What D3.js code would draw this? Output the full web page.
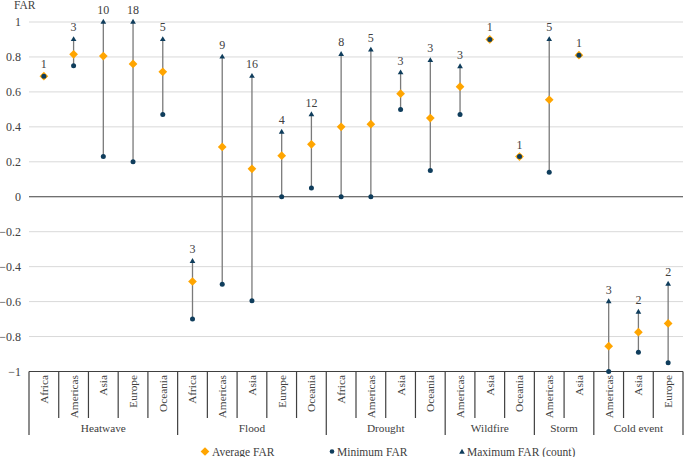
<!DOCTYPE html>
<html><head><meta charset="utf-8">
<script src="https://cdn.jsdelivr.net/npm/d3@7/dist/d3.min.js"></script>
<style>body{margin:0;background:#fff} .chart text{font-family:'Liberation Serif','Times New Roman',serif}</style>
</head><body>
<svg id="c" class="chart" width="685" height="457"></svg>
<script>
const groups = ["Heatwave","Heatwave","Heatwave","Heatwave","Heatwave",
  "Flood","Flood","Flood","Flood","Flood",
  "Drought","Drought","Drought","Drought",
  "Wildfire","Wildfire","Wildfire",
  "Storm","Storm",
  "Cold event","Cold event","Cold event"];
const regions = ["Africa","Americas","Asia","Europe","Oceania",
  "Africa","Americas","Asia","Europe","Oceania",
  "Africa","Americas","Asia","Oceania",
  "Americas","Asia","Oceania",
  "Americas","Asia",
  "Americas","Asia","Europe"];
const avgFAR = [0.69,0.815,0.805,0.76,0.715, -0.485,0.285,0.16,0.235,0.30, 0.40,0.415,0.59,0.45, 0.63,0.90,0.23, 0.555,0.81, -0.855,-0.775,-0.725];
const minFAR = [0.69,0.75,0.23,0.20,0.47, -0.70,-0.50,-0.595,0.00,0.05, 0.00,0.00,0.50,0.15, 0.47,0.90,0.23, 0.14,0.81, -1.00,-0.89,-0.95];
const maxFAR = [0.69,0.90,1.00,1.00,0.90, -0.37,0.80,0.69,0.37,0.47, 0.815,0.84,0.71,0.78, 0.745,0.90,0.23, 0.90,0.81, -0.60,-0.66,-0.50];
const counts = [1,3,10,18,5, 3,9,16,4,12, 8,5,3,3, 3,1,1, 5,1, 3,2,2];
const yTicks = [1,0.8,0.6,0.4,0.2,0,-0.2,-0.4,-0.6,-0.8,-1];
const legendLabels = ["Average FAR","Minimum FAR","Maximum FAR (count)"];

const orange = "#ffa500", navy = "#0f3d5c", lineC = "#7a7a7a", txt = "#404040";
const svg = d3.select("#c");
const keys = groups.map((g,i)=>i);
const x = d3.scaleBand().domain(keys).range([29,683]);
const y = d3.scaleLinear().domain([-1,1]).range([371.5,22]);
const cx = i => x(i) + x.bandwidth()/2;
const T = sel => sel.attr("fill",txt);

// gridlines
svg.append("g").selectAll("line").data(yTicks.filter(t=>t!==0 && t!==-1)).join("line")
  .attr("x1",29).attr("x2",683).attr("y1",d=>y(d)).attr("y2",d=>y(d))
  .attr("stroke","#d9d9d9").attr("stroke-width",1);
// y tick labels
svg.append("g").selectAll("text").data(yTicks).join("text")
  .attr("x",21).attr("y",d=>y(d)).attr("dy","0.35em").attr("text-anchor","end")
  .attr("font-size",12).call(T).text(d=>d3.format("")(d));
svg.append("text").attr("x",14).attr("y",9).attr("font-size",11.5).call(T).text("FAR");

// zero line and bottom axis line
svg.append("line").attr("x1",29).attr("x2",683).attr("y1",y(0)).attr("y2",y(0)).attr("stroke","#404040").attr("stroke-width",1.2);
svg.append("line").attr("x1",29).attr("x2",683).attr("y1",y(-1)).attr("y2",y(-1)).attr("stroke","#404040").attr("stroke-width",1.2);

// category box lines
const bounds = d3.range(keys.length+1);
const isGroupB = b => b===0 || b===keys.length || groups[b]!==groups[b-1];
const bx = b => b<keys.length ? x(b) : x(keys.length-1)+x.bandwidth();
svg.append("g").selectAll("line").data(bounds).join("line")
  .attr("x1",bx).attr("x2",bx)
  .attr("y1",y(-1)).attr("y2",b=>isGroupB(b)?435:418)
  .attr("stroke","#404040").attr("stroke-width",1.2);
// region labels
svg.append("g").selectAll("text").data(keys).join("text")
  .attr("transform",i=>`translate(${cx(i)},375) rotate(-90)`)
  .attr("dy","0.35em").attr("text-anchor","end").attr("font-size",11.3).call(T)
  .text(i=>regions[i]);
// group labels
const groupNames = [...new Set(groups)];
svg.append("g").selectAll("text").data(groupNames).join("text")
  .attr("x",g=>{const idx=keys.filter(i=>groups[i]===g);return (x(idx[0])+x(idx[idx.length-1])+x.bandwidth())/2;})
  .attr("y",432).attr("text-anchor","middle").attr("font-size",11.3).call(T).text(g=>g);

// high-low lines
svg.append("g").selectAll("line").data(keys).join("line")
  .attr("x1",cx).attr("x2",cx).attr("y1",i=>y(minFAR[i])).attr("y2",i=>y(maxFAR[i]))
  .attr("stroke",lineC).attr("stroke-width",1.3);
// max triangles
const tri = d3.symbol().type(d3.symbolTriangle).size(14);
svg.append("g").selectAll("path").data(keys).join("path")
  .attr("transform",i=>`translate(${cx(i)},${y(maxFAR[i])})`).attr("d",tri).attr("fill",navy);
// avg diamonds
svg.append("g").selectAll("path").data(keys).join("path")
  .attr("transform",i=>`translate(${cx(i)},${y(avgFAR[i])}) rotate(45)`)
  .attr("d",d3.symbol().type(d3.symbolSquare).size(38)).attr("fill",orange);
// min circles
svg.append("g").selectAll("circle").data(keys).join("circle")
  .attr("cx",cx).attr("cy",i=>y(minFAR[i])).attr("r",2.5).attr("fill",navy);
// count labels
svg.append("g").selectAll("text").data(keys).join("text")
  .attr("x",cx).attr("y",i=>y(maxFAR[i])-8).attr("text-anchor","middle")
  .attr("font-size",12).call(T).text(i=>counts[i]);

// legend
const lg = svg.append("g");
lg.append("path").attr("transform","translate(205,451.5) rotate(45)").attr("d",d3.symbol().type(d3.symbolSquare).size(38)).attr("fill",orange);
lg.append("text").attr("x",212).attr("y",455.5).attr("font-size",11.5).call(T).text(legendLabels[0]);
lg.append("circle").attr("cx",332).attr("cy",451.5).attr("r",2.3).attr("fill",navy);
lg.append("text").attr("x",337).attr("y",455.5).attr("font-size",11.5).call(T).text(legendLabels[1]);
lg.append("path").attr("transform","translate(462,452)").attr("d",tri).attr("fill",navy);
lg.append("text").attr("x",467).attr("y",455.5).attr("font-size",11.5).call(T).text(legendLabels[2]);
</script>
</body></html>
